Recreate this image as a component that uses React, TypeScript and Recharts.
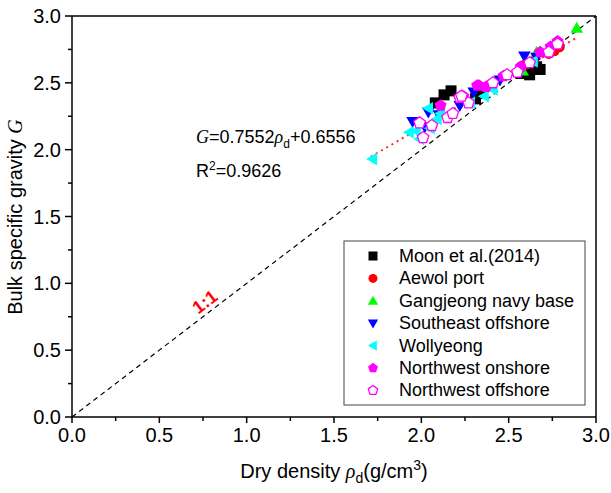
import React from "react";
import { ScatterChart, Scatter, XAxis, YAxis, ReferenceLine } from "recharts";

// measured points, [dry density, bulk specific gravity]
const moonPoints = [
  [2.08, 2.35], [2.13, 2.41], [2.17, 2.44], [2.31, 2.38], [2.35, 2.42],
  [2.57, 2.57], [2.6, 2.59], [2.63, 2.6], [2.66, 2.62], [2.62, 2.56], [2.68, 2.6],
];
const aewolPoints = [
  [2.57, 2.62], [2.6, 2.64], [2.64, 2.66], [2.73, 2.72], [2.76, 2.74], [2.79, 2.77],
];
const gangjeongPoints = [[2.89, 2.91], [2.66, 2.73], [2.58, 2.59]];
const southeastPoints = [
  [1.95, 2.21], [2.04, 2.28], [2.1, 2.26], [2.3, 2.43], [2.45, 2.52],
  [2.59, 2.7], [2.66, 2.69], [2.22, 2.33], [2.02, 2.17],
];
const wollyeongPoints = [
  [1.72, 1.93], [1.93, 2.13], [1.97, 2.14], [2.04, 2.31], [2.09, 2.23],
  [2.11, 2.27], [2.28, 2.35], [2.41, 2.45], [2.64, 2.66], [1.99, 2.08],
  [2.05, 2.16], [2.36, 2.4],
];
const nwOnshorePoints = [
  [2.11, 2.33], [2.24, 2.4], [2.32, 2.48], [2.33, 2.48], [2.37, 2.47],
  [2.47, 2.55], [2.68, 2.73], [2.74, 2.77], [2.78, 2.81], [2.57, 2.62],
];
const nwOffshorePoints = [
  [1.99, 2.2], [2.01, 2.09], [2.15, 2.24], [2.18, 2.27], [2.22, 2.39],
  [2.27, 2.35], [2.41, 2.5], [2.49, 2.56], [2.55, 2.58], [2.62, 2.65],
  [2.73, 2.73], [2.78, 2.79], [2.23, 2.4], [2.06, 2.18],
];

const fitSlope = 0.7552;
const fitIntercept = 0.6556;
const fitRange = [1.71, 2.89];

const majorTicks = [0, 0.5, 1, 1.5, 2, 2.5, 3];
const allTicks = [0, 0.25, 0.5, 0.75, 1, 1.25, 1.5, 1.75, 2, 2.25, 2.5, 2.75, 3];

const series = [
  { name: "Moon et al.(2014)", points: moonPoints, kind: "square", color: "#000000" },
  { name: "Aewol port", points: aewolPoints, kind: "circle", color: "#ff0000" },
  { name: "Gangjeong navy base", points: gangjeongPoints, kind: "up", color: "#00ff00" },
  { name: "Southeast offshore", points: southeastPoints, kind: "down", color: "#0000ff" },
  { name: "Wollyeong", points: wollyeongPoints, kind: "left", color: "#00ffff" },
  { name: "Northwest onshore", points: nwOnshorePoints, kind: "pentagon", color: "#ff00ff" },
  { name: "Northwest offshore", points: nwOffshorePoints, kind: "pentagonOpen", color: "#ff00ff" },
];

const SANS = "'Liberation Sans', Arial, sans-serif";
const SERIF = "'Liberation Serif', 'Times New Roman', serif";

const pentagon = (cx: number, cy: number, r: number) => {
  const pts = [];
  for (let i = 0; i < 5; i++) {
    const a = -Math.PI / 2 + (i * 2 * Math.PI) / 5;
    pts.push(`${cx + r * Math.cos(a)},${cy + r * Math.sin(a)}`);
  }
  return pts.join(" ");
};

const marker = (kind: string, cx: number, cy: number, color: string, s: number) => {
  const h = s / 2;
  switch (kind) {
    case "square":
      return <rect x={cx - h} y={cy - h} width={s} height={s} fill={color} />;
    case "circle":
      return <circle cx={cx} cy={cy} r={h} fill={color} />;
    case "up":
      return <polygon points={`${cx},${cy - h * 1.15} ${cx - h * 1.15},${cy + h * 0.85} ${cx + h * 1.15},${cy + h * 0.85}`} fill={color} />;
    case "down":
      return <polygon points={`${cx},${cy + h * 1.15} ${cx - h * 1.15},${cy - h * 0.85} ${cx + h * 1.15},${cy - h * 0.85}`} fill={color} />;
    case "left":
      return <polygon points={`${cx - h * 1.15},${cy} ${cx + h * 0.85},${cy - h * 1.15} ${cx + h * 0.85},${cy + h * 1.15}`} fill={color} />;
    case "pentagon":
      return <polygon points={pentagon(cx, cy, h * 1.15)} fill={color} />;
    default:
      return <polygon points={pentagon(cx, cy, h * 1.1)} fill="#ffffff" stroke={color} strokeWidth={1.3} />;
  }
};

const XTick = (props: any) => {
  const { x, y, payload } = props;
  const major = majorTicks.includes(payload.value);
  return (
    <g>
      <line x1={x} y1={y} x2={x} y2={y + (major ? 6 : 4)} stroke="#000" strokeWidth={1.5} />
      {major && (
        <text x={x} y={y + 25} textAnchor="middle" fontSize={20} fontFamily={SANS} fill="#000">
          {payload.value.toFixed(1)}
        </text>
      )}
    </g>
  );
};

const YTick = (props: any) => {
  const { x, y, payload } = props;
  const major = majorTicks.includes(payload.value);
  return (
    <g>
      <line x1={x} y1={y} x2={x - (major ? 7 : 4)} y2={y} stroke="#000" strokeWidth={1.5} />
      {major && (
        <text x={x - 11} y={y + 7} textAnchor="end" fontSize={20} fontFamily={SANS} fill="#000">
          {payload.value.toFixed(1)}
        </text>
      )}
    </g>
  );
};

export default function App() {
  return (
    <div style={{ position: "absolute", left: 0, top: 0, width: 611, height: 493, background: "#fff" }}>
      <ScatterChart width={611} height={493} margin={{ top: 16, right: 15, left: 0, bottom: 0 }}>
        <XAxis
          type="number"
          dataKey="x"
          domain={[0, 3]}
          ticks={allTicks}
          interval={0}
          height={76}
          tickSize={0}
          tickMargin={0}
          tickLine={false}
          tick={<XTick />}
          axisLine={{ stroke: "#000", strokeWidth: 1.5 }}
        />
        <YAxis
          type="number"
          dataKey="y"
          domain={[0, 3]}
          ticks={allTicks}
          interval={0}
          width={72}
          tickSize={0}
          tickMargin={0}
          tickLine={false}
          tick={<YTick />}
          axisLine={{ stroke: "#000", strokeWidth: 1.5 }}
        />
        <ReferenceLine y={3} stroke="#000" strokeWidth={1.5} />
        <ReferenceLine x={3} stroke="#000" strokeWidth={1.5} />
        {series.map((s) => (
          <Scatter
            key={s.name}
            name={s.name}
            data={s.points.map(([x, y]) => ({ x, y }))}
            isAnimationActive={false}
            shape={(p: any) => marker(s.kind, p.cx, p.cy, s.color, 11)}
          />
        ))}
        <ReferenceLine
          segment={[{ x: 0, y: 0 }, { x: 3, y: 3 }]}
          stroke="#000"
          strokeWidth={1.2}
          strokeDasharray="5 4"
        />
        <ReferenceLine
          segment={[
            { x: fitRange[0], y: fitSlope * fitRange[0] + fitIntercept },
            { x: fitRange[1], y: fitSlope * fitRange[1] + fitIntercept },
          ]}
          stroke="#ff2020"
          strokeWidth={2}
          strokeDasharray="2 4"
        />
      </ScatterChart>

      <svg width={611} height={493} style={{ position: "absolute", left: 0, top: 0, pointerEvents: "none" }}>
        {/* regression text */}
        <text x={196} y={143} fontSize={18} fontFamily={SANS} fill="#000">
          <tspan fontFamily={SERIF} fontStyle="italic">G</tspan>
          <tspan>=0.7552</tspan>
          <tspan fontFamily={SERIF} fontStyle="italic">ρ</tspan>
          <tspan fontSize={12} dy={5}>d</tspan>
          <tspan dy={-5}>+0.6556</tspan>
        </text>
        <text x={196} y={177} fontSize={18} fontFamily={SANS} fill="#000">
          R<tspan fontSize={12} dy={-7}>2</tspan>
          <tspan dy={7}>=0.9626</tspan>
        </text>
        <text
          x={205}
          y={308}
          transform="rotate(-37.4 205 302)"
          textAnchor="middle"
          fontSize={18}
          fontWeight="bold"
          fontFamily={SANS}
          fill="#ff0000"
        >
          1:1
        </text>

        {/* axis titles */}
        <text x={334} y={478} textAnchor="middle" fontSize={20} fontFamily={SANS} fill="#000">
          Dry density{" "}
          <tspan fontFamily={SERIF} fontStyle="italic">ρ</tspan>
          <tspan fontSize={14} dy={5}>d</tspan>
          <tspan dy={-5}>(g/cm</tspan>
          <tspan fontSize={14} dy={-8}>3</tspan>
          <tspan dy={8}>)</tspan>
        </text>
        <text
          x={0}
          y={0}
          transform="translate(22 217) rotate(-90)"
          textAnchor="middle"
          fontSize={20}
          fontFamily={SANS}
          fill="#000"
        >
          Bulk specific gravity <tspan fontFamily={SERIF} fontStyle="italic">G</tspan>
        </text>

        {/* legend */}
        <rect x={344} y={241} width={241} height={164} fill="#fff" stroke="#444" strokeWidth={1} />
        {series.map((s, i) => {
          const cy = 256 + i * 22.4;
          return (
            <g key={s.name}>
              {marker(s.kind, 373, cy, s.color, 9)}
              <text x={399} y={cy + 6} fontSize={18} fontFamily={SANS} fill="#000">
                {s.name}
              </text>
            </g>
          );
        })}
      </svg>
    </div>
  );
}
